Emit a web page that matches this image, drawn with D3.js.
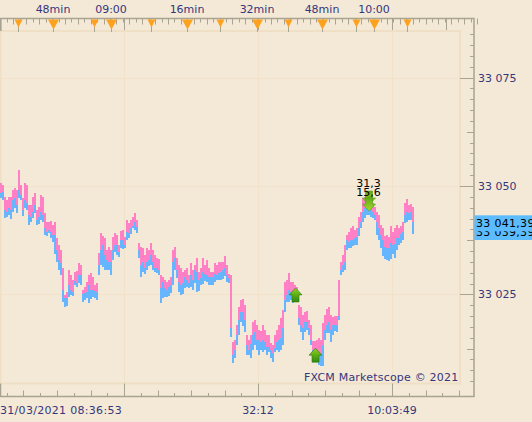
<!DOCTYPE html>
<html><head><meta charset="utf-8">
<script src="https://cdn.jsdelivr.net/npm/d3@7/dist/d3.min.js"></script>
<style>html,body{margin:0;padding:0;background:#f3e9d6;overflow:hidden}svg{display:block}text{font-family:"DejaVu Sans",sans-serif;font-size:11px}</style>
</head><body><svg id="c" width="532" height="422"></svg>
<script>
const basePrice = 33000;
const askHigh = [50.7,50.2,47.5,46.8,47.5,47.5,49.1,49.5,49.1,53.7,50.2,47.2,50.7,50.2,45.6,45.6,47.5,48.4,44.5,45.2,47.9,47.5,43.8,41.7,41.7,41.9,41.0,41.7,38.0,36.4,35.2,31.1,24.9,25.6,30.6,29.5,28.3,30.2,30.4,32.2,31.8,26.0,26.7,27.9,29.5,29.9,29.0,27.2,27.6,34.5,39.2,38.5,38.0,35.2,35.9,35.2,38.2,39.2,38.7,36.4,39.6,39.9,38.2,42.2,41.5,42.2,42.9,43.8,42.2,36.9,35.9,35.7,34.1,35.7,35.2,36.9,35.2,34.1,33.4,33.2,29.5,29.0,28.3,27.9,28.3,29.0,35.2,35.9,33.4,31.8,31.1,30.2,30.6,31.1,29.5,32.2,30.6,31.8,33.4,30.2,31.1,33.4,31.8,32.9,31.1,30.2,30.2,32.2,31.8,32.5,32.5,32.5,33.9,31.8,29.7,29.5,14.0,14.5,17.9,22.1,23.7,23.9,22.6,15.6,14.5,15.6,18.6,19.1,17.9,16.8,16.6,17.9,16.8,15.6,15.6,13.8,13.3,15.6,16.8,17.9,19.6,21.4,27.9,28.3,29.9,27.9,27.9,27.2,26.7,22.6,22.1,20.3,20.9,21.2,19.1,17.9,14.3,14.3,14.5,14.9,14.5,18.4,20.3,21.6,22.1,20.3,19.8,20.0,20.0,28.3,32.5,34.1,36.4,38.7,39.4,40.3,40.8,39.9,40.3,42.9,44.0,47.2,47.5,47.5,47.2,46.8,46.1,45.2,44.0,43.3,41.0,40.3,38.5,38.7,38.2,40.8,39.4,40.3,41.0,40.3,40.8,41.7,46.1,47.0,45.6,45.8,45.2];
const spreadMid = [48.4,48.6,44.5,44.0,44.9,44.5,46.8,47.2,45.6,49.1,47.9,44.5,46.8,46.1,43.3,42.9,44.0,45.6,42.2,42.9,44.0,43.3,40.3,39.4,39.9,39.4,38.7,38.7,35.2,32.9,32.2,26.0,24.2,24.2,27.2,26.0,25.6,28.1,27.6,29.5,29.5,25.1,25.3,25.6,27.2,26.0,26.0,25.8,25.6,31.8,35.2,36.4,34.1,32.9,32.5,32.5,35.2,36.4,36.4,34.8,37.5,37.5,36.4,39.4,39.2,40.3,40.8,41.7,40.5,35.2,31.8,32.5,31.1,32.5,32.9,34.1,32.5,31.1,31.1,30.6,26.5,27.9,26.5,26.0,26.7,27.2,32.5,33.4,30.6,27.9,27.2,27.6,29.0,28.3,27.6,29.5,28.3,30.6,30.2,28.3,28.8,30.2,29.7,29.5,29.0,29.0,29.0,29.7,29.5,29.9,30.2,30.6,31.1,29.5,28.8,17.3,11.0,12.2,15.6,19.1,20.9,20.9,19.1,13.3,12.2,13.6,15.6,16.3,14.5,14.5,14.0,14.5,14.0,12.9,12.9,12.2,11.5,12.6,14.0,14.5,14.9,17.3,23.7,24.9,26.0,25.6,25.3,24.9,23.7,19.6,17.9,17.3,18.6,18.6,17.3,14.5,12.2,12.2,12.2,11.7,11.0,13.3,16.8,17.9,18.6,16.8,17.9,17.9,17.9,20.0,30.6,31.8,32.5,37.5,37.1,37.5,37.5,38.0,38.2,40.3,41.7,44.0,44.9,45.4,45.2,44.9,44.0,43.3,41.7,40.3,38.7,37.5,35.9,35.7,35.7,36.9,36.4,36.6,38.0,38.0,38.9,39.4,43.3,44.0,43.8,44.0,41.7];
const bidLow = [47.2,46.8,42.6,42.9,43.3,42.4,44.0,44.9,43.8,47.2,46.8,43.1,44.9,44.5,41.0,41.7,42.6,43.8,41.0,41.2,42.2,41.7,38.7,38.5,39.2,38.0,37.1,34.3,32.5,30.6,29.5,23.3,22.1,22.3,24.4,24.9,24.6,27.2,26.7,27.6,27.2,23.3,23.7,24.2,23.0,23.9,24.4,24.2,23.7,29.5,31.8,31.3,30.6,30.6,30.6,29.5,32.9,34.8,34.1,33.6,35.7,35.5,35.7,37.5,38.0,38.9,40.3,39.9,39.2,33.4,29.0,30.2,29.7,30.6,31.6,31.8,30.6,30.2,29.9,29.5,23.0,24.2,24.4,24.4,24.6,25.3,27.2,30.6,28.8,25.6,24.9,25.1,26.5,26.7,26.5,26.7,26.0,27.6,25.6,25.8,27.2,27.4,28.1,27.9,27.2,27.2,27.2,27.9,28.3,28.3,28.3,28.6,29.2,27.9,27.6,15.2,9.2,10.3,13.3,15.6,18.6,17.7,16.3,11.0,11.0,10.3,12.2,13.3,12.2,11.0,12.2,11.7,12.2,11.0,11.7,10.3,9.4,11.7,12.2,11.7,12.2,13.3,20.9,23.3,23.3,23.7,23.0,23.3,23.3,17.9,16.3,14.5,16.3,16.8,15.6,13.3,11.7,9.9,9.4,8.7,8.5,8.5,14.5,16.1,16.1,14.0,15.6,16.6,16.3,19.0,29.5,30.2,30.6,35.2,35.7,35.7,36.2,36.4,36.4,38.5,40.3,41.7,42.6,43.3,43.3,42.9,42.6,42.2,38.7,37.5,35.7,33.9,33.2,32.9,32.7,33.2,34.3,33.4,35.2,36.4,36.9,37.5,41.5,41.7,42.2,42.2,38.9];
const priceLabels = [["33 075",33075],["33 050",33050],["33 025",33025]];
const markerBars = [8.5,26,46.5,55,75,93,109.5,128,143.5,160.5,177.5,186.5,203];
const bigMarkerBars = [26,55,93,128,160.5,186.5];
const topLabels = ["48min","09:00","16min","32min","48min","10:00"];
const gridBars = [61.5,128.5,195.5];
const upSignals = [[147.25,33026.5],[157.25,33012.6]];
const downSignals = [[184,33045.6],[184,33044.2]];
const signalLabels = ["31,3","15,6"];
const lastPrices = ["33 041,39","33 039,39"];
const lastValues = [33041.39,33039.39];
const bottomLabels = ["31/03/2021 08:36:53","32:12","10:03:49"];
const copyright = "FXCM Marketscope \u00a9 2021";

const INK="#36367c", RULE="#a8a393", GRID="#f1e2c9", FRAME="#efdfc4";
const svg=d3.select("#c");
const x=d3.scaleLinear().domain([0,askHigh.length-1]).range([1,413]);
const y=d3.scaleLinear().domain([33025,33075]).range([294.4,77.6]);
const R=474,P=460,T=18.5,B=396.5,PT=31,PB=383.5;
const gL=(cls)=>svg.append("g").attr("class",cls);

// grid
const g=gL("grid").attr("stroke",GRID).attr("stroke-width",1);
gridBars.forEach(b=>g.append("line").attr("x1",Math.round(x(b))+.5).attr("x2",Math.round(x(b))+.5).attr("y1",PT).attr("y2",PB));
priceLabels.forEach(d=>g.append("line").attr("x1",0).attr("x2",P).attr("y1",Math.round(y(d[1]))+.5).attr("y2",Math.round(y(d[1]))+.5));
// frame
svg.append("path").attr("d",`M0.5,${PT}H${P}V${PB}H0.5Z`).attr("fill","none").attr("stroke",FRAME).attr("stroke-width",2);

// bars
const idx=d3.range(askHigh.length);
svg.append("g").attr("shape-rendering","crispEdges").selectAll("rect").data(idx).join("rect").attr("x",i=>x(i)-1).attr("width",2)
 .attr("y",i=>y(basePrice+spreadMid[i])-1).attr("height",i=>y(basePrice+bidLow[i])-y(basePrice+spreadMid[i])+1).attr("fill","#66b6ff");
svg.append("g").attr("shape-rendering","crispEdges").selectAll("rect").data(idx).join("rect").attr("x",i=>x(i)-1).attr("width",2)
 .attr("y",i=>y(basePrice+askHigh[i])).attr("height",i=>y(basePrice+spreadMid[i])-y(basePrice+askHigh[i])).attr("fill","#ff80c4");

// rulers
const ax=gL("rulers").attr("stroke",RULE).attr("fill","none");
ax.append("path").attr("d",`M0.5,${PT}V${T}H${R}V${B}H0.5V${PB}`).attr("stroke-width",1.5);
// top ticks
d3.range(0,74).forEach(k=>{const b=3+k*3.22;const px=Math.round(x(b))+.5;
  ax.append("line").attr("x1",px).attr("x2",px).attr("y1",T).attr("y2",T+(k%2?6:4));});
gridBars.concat([222.5]).forEach(b=>{const px=Math.round(x(b))+.5;
  ax.append("line").attr("x1",px).attr("x2",px).attr("y1",T).attr("y2",30);});
// bottom ticks
d3.range(-7,21).forEach(k=>{const b=61.5+k*8.375;const px=Math.round(x(b))+.5;
  const m=((k%8)+8)%8; const len=m===0?13:(m%2?3.5:6);
  ax.append("line").attr("x1",px).attr("x2",px).attr("y1",B).attr("y2",B-len);});
// right ticks
d3.range(33005,33087.5,2.5).forEach(v=>{const py=Math.round(y(v))+.5;
  const len=(v%25===0)?14:((v-33000)%12.5===0?7:4);
  ax.append("line").attr("x1",R).attr("x2",R-len).attr("y1",py).attr("y2",py);});
// left ruler thick edge
ax.append("line").attr("x1",.5).attr("x2",.5).attr("y1",T).attr("y2",PT).attr("stroke-width",2);

// price labels
svg.append("g").selectAll("text").data(priceLabels).join("text").attr("x",478).attr("y",d=>y(d[1])+4).attr("fill",INK).text(d=>d[0]);

// top markers
markerBars.forEach(b=>{const px=Math.round(x(b))+.5, big=bigMarkerBars.includes(b), w=big?5.5:4, h=big?10:8;
  svg.append("line").attr("x1",px).attr("x2",px).attr("y1",T+1).attr("y2",32).attr("stroke","#a9a595");
  svg.append("path").attr("d",`M${px-w},${T+1}H${px+w}L${px},${T+1+h}Z`).attr("fill","#fda21e");
});
svg.append("g").selectAll("text").data(bigMarkerBars).join("text").attr("x",b=>x(b)).attr("y",13).attr("text-anchor","middle").attr("fill",INK).text((b,i)=>topLabels[i]);

// bottom labels
svg.append("text").attr("x",0).attr("y",414).attr("fill",INK).attr("letter-spacing",".3").text(bottomLabels[0]);
svg.append("text").attr("x",x(gridBars[1])).attr("y",414).attr("text-anchor","middle").attr("fill",INK).text(bottomLabels[1]);
svg.append("text").attr("x",x(gridBars[2])).attr("y",414).attr("text-anchor","middle").attr("fill",INK).text(bottomLabels[2]);
svg.append("text").attr("x",304).attr("y",381).attr("fill",INK).attr("letter-spacing",".2").text(copyright);

// signal arrows
const defs=svg.append("defs");
const grad=(id,a,b)=>{const l=defs.append("linearGradient").attr("id",id).attr("x1",0).attr("x2",0).attr("y1",0).attr("y2",1);
  l.append("stop").attr("offset",0).attr("stop-color",a);l.append("stop").attr("offset",1).attr("stop-color",b);};
grad("gu","#8fd01e","#2f8a10");grad("gd","#5fa818","#a6d92e");
upSignals.forEach(d=>{const c=x(d[0]),t=y(d[1]);
  svg.append("path").attr("d",`M${c},${t}L${c+6.5},${t+7}H${c+3.5}V${t+14}H${c-3.5}V${t+7}H${c-6.5}Z`).attr("fill","url(#gu)").attr("stroke","#2c7a12").attr("stroke-width",.6);});
downSignals.forEach(d=>{const c=x(d[0]),t=y(d[1]);
  svg.append("path").attr("d",`M${c},${t}L${c+6.5},${t-7}H${c+3.5}V${t-14}H${c-3.5}V${t-7}H${c-6.5}Z`).attr("fill","url(#gd)").attr("stroke","#4f9a14").attr("stroke-width",.6);});
signalLabels.forEach((s,i)=>svg.append("text").attr("x",x(downSignals[0][0])-.5).attr("y",187+i*9).attr("text-anchor","middle").attr("fill","#000").text(s));

// last price boxes
[1,0].forEach(i=>{const py=y(lastValues[i]);
  svg.append("rect").attr("x",R+.5).attr("y",py-8).attr("width",60).attr("height",16).attr("fill","#5cbcff");
  svg.append("text").attr("x",476).attr("y",py+4).attr("fill","#000").attr("letter-spacing",".3").text(lastPrices[i]);});
</script></body></html>
